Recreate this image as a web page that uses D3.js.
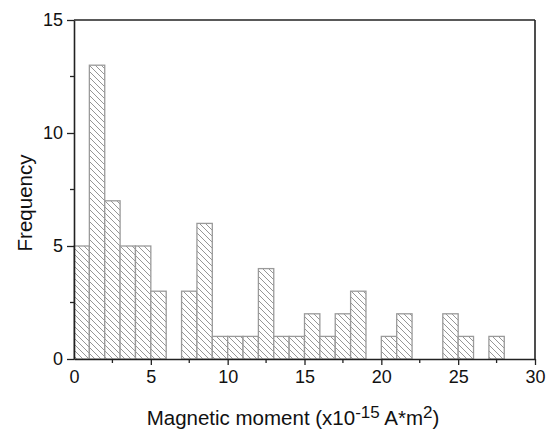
<!DOCTYPE html>
<html>
<head>
<meta charset="utf-8">
<script src="https://cdn.jsdelivr.net/npm/d3@7"></script>
<style>
  body { margin: 0; background: #fff; }
  svg { display: block; font-family: "Liberation Sans", Arial, sans-serif; }
</style>
</head>
<body>
<svg id="chart" width="547" height="432"></svg>
<script>
// histogram bins (left edge) and counts
var binStarts = [0,1,2,3,4,5,6,7,8,9,10,11,12,13,14,15,16,17,18,19,20,21,22,23,24,25,26,27];
var counts    = [5,13,7,5,5,3,0,3,6,1,1,1,4,1,1,2,1,2,3,0,1,2,0,0,2,1,0,1];
var xTicks = [0,5,10,15,20,25,30];
var yTicks = [0,5,10,15];

var svg = d3.select("#chart");
var margin = {left: 74, right: 12, top: 20, bottom: 73};
var width = 547 - margin.left - margin.right,
    height = 432 - margin.top - margin.bottom;

var x = d3.scaleLinear().domain([0,30]).range([margin.left, margin.left + width]);
var y = d3.scaleLinear().domain([0,15]).range([margin.top + height, margin.top]);

// hatch pattern
var defs = svg.append("defs");
var pat = defs.append("pattern")
  .attr("id","hatch")
  .attr("patternUnits","userSpaceOnUse")
  .attr("width",6).attr("height",6);
pat.append("rect").attr("width",6).attr("height",6).attr("fill","#fff");
pat.append("path")
  .attr("d","M-1,-1 L7,7 M-1,5 L1,7 M5,-1 L7,1")
  .attr("stroke","#8a8a8a")
  .attr("stroke-width",0.9);

var data = binStarts.map(function(s,i){ return {x0: s, x1: s + 1, n: counts[i]}; })
  .filter(function(d){ return d.n > 0; });

svg.append("g").selectAll("rect")
  .data(data)
  .enter().append("rect")
    .attr("x", function(d){ return x(d.x0); })
    .attr("width", function(d){ return x(d.x1) - x(d.x0); })
    .attr("y", function(d){ return y(d.n); })
    .attr("height", function(d){ return y(0) - y(d.n); })
    .attr("fill","url(#hatch)")
    .attr("stroke","#9a9a9a")
    .attr("stroke-width",1.3);

// frame: top and right lines
svg.append("line")
  .attr("x1", x(0)).attr("x2", x(30)).attr("y1", y(15)).attr("y2", y(15))
  .attr("stroke","#222").attr("stroke-width",1.6);
svg.append("line")
  .attr("x1", x(30)).attr("x2", x(30)).attr("y1", y(15)).attr("y2", y(0))
  .attr("stroke","#222").attr("stroke-width",1.6);

// x axis
var xAxis = d3.axisBottom(x).tickValues(xTicks).tickSize(6).tickPadding(5).tickSizeOuter(0);
var gx = svg.append("g")
  .attr("transform","translate(0," + y(0) + ")")
  .call(xAxis);
gx.selectAll(".tick").filter(function(d){ return d === 0; }).select("line").remove();
gx.append("g").selectAll("line")
  .data(d3.range(2.5, 30, 5))
  .enter().append("line")
    .attr("x1", function(d){ return x(d); }).attr("x2", function(d){ return x(d); })
    .attr("y1", 0).attr("y2", 4)
    .attr("stroke","#222").attr("stroke-width",1.3);

// y axis
var yAxis = d3.axisLeft(y).tickValues(yTicks).tickSize(7).tickPadding(4).tickSizeOuter(0);
var gy = svg.append("g")
  .attr("transform","translate(" + x(0) + ",0)")
  .call(yAxis);
gy.append("g").selectAll("line")
  .data(d3.range(2.5, 15, 5))
  .enter().append("line")
    .attr("y1", function(d){ return y(d); }).attr("y2", function(d){ return y(d); })
    .attr("x1", 0).attr("x2", -4)
    .attr("stroke","#222").attr("stroke-width",1.3);

[gx, gy].forEach(function(g){
  g.select(".domain").attr("stroke","#222").attr("stroke-width",1.6);
  g.selectAll(".tick line").attr("stroke","#222").attr("stroke-width",1.3);
  g.selectAll(".tick text").attr("font-size",18).attr("fill","#111")
    .attr("font-family","\"Liberation Sans\", Arial, sans-serif");
});

// axis titles
var xt = svg.append("text")
  .attr("x", 293).attr("y", 425)
  .attr("text-anchor","middle")
  .attr("font-size",20.5).attr("fill","#111");
xt.append("tspan").text("Magnetic moment (x10");
xt.append("tspan").attr("dy",-7).attr("font-size",17).text("-15");
xt.append("tspan").attr("dy",7).text(" A*m");
xt.append("tspan").attr("dy",-7).attr("font-size",17).text("2");
xt.append("tspan").attr("dy",7).text(")");

svg.append("text")
  .attr("transform","translate(32,203) rotate(-90)")
  .attr("text-anchor","middle")
  .attr("font-size",20.5).attr("fill","#111")
  .text("Frequency");
</script>
</body>
</html>
